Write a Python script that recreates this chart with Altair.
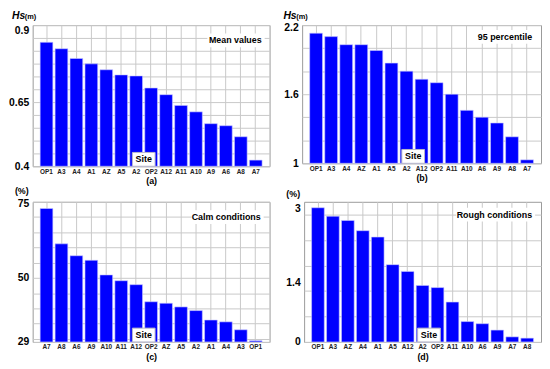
import altair as alt
import pandas as pd

FONT = "Liberation Sans"

# ---- data ----
sites_a = ["OP1", "A3", "A4", "A1", "AZ", "A5", "A2", "OP2", "A12", "A11", "A10", "A9", "A6", "A8", "A7"]
mean_hs = [0.883, 0.858, 0.820, 0.799, 0.776, 0.756, 0.752, 0.705, 0.679, 0.637, 0.612, 0.566, 0.558, 0.515, 0.424]

sites_b = ["OP1", "A3", "A4", "AZ", "A1", "A5", "A2", "A12", "OP2", "A11", "A10", "A6", "A9", "A8", "A7"]
p95_hs = [2.13, 2.10, 2.03, 2.03, 1.98, 1.87, 1.80, 1.73, 1.70, 1.60, 1.46, 1.40, 1.35, 1.23, 1.03]

sites_c = ["A7", "A8", "A6", "A9", "A10", "A11", "A12", "OP2", "AZ", "A5", "A2", "A1", "A4", "A3", "OP1"]
calm_pct = [72.8, 61.2, 57.3, 55.8, 51.0, 49.1, 47.8, 42.2, 41.7, 40.5, 39.3, 36.2, 35.6, 33.0, 29.4]

sites_d = ["OP1", "A3", "AZ", "A4", "A1", "A5", "A12", "A2", "OP2", "A11", "A10", "A6", "A9", "A7", "A8"]
rough_pct = [3.16, 2.96, 2.86, 2.62, 2.47, 1.82, 1.66, 1.33, 1.28, 0.94, 0.48, 0.43, 0.28, 0.12, 0.09]

# axis tick positions / labels
axis_a = [0.4, 0.45, 0.5, 0.55, 0.6, 0.65, 0.7, 0.75, 0.8, 0.85, 0.9, 0.95]
labels_a = [0.4, 0.65, 0.9]
axis_b = [1, 1.2, 1.4, 1.6, 1.8, 2.0, 2.2]
labels_b = [1, 1.6, 2.2]
axis_c = [29, 30, 35, 40, 45, 50, 55, 60, 65, 70, 75]
labels_c = [29, 50, 75]
axis_d = [0, 0.6, 1.2, 1.4, 1.8, 2.4, 3.0]
labels_d = [0, 1.4, 3]

one = alt.Data(values=[{"k": 1}])


def text_layer(txt, x, y, size, align="left", style="normal"):
    return alt.Chart(one).mark_text(
        text=txt, align=align, baseline="middle", font=FONT, fontSize=size,
        fontWeight="bold", fontStyle=style, color="black"
    ).encode(x=alt.value(x), y=alt.value(y))


def box_layer(x1, x2, y1, y2, stroke=None):
    kw = dict(fill="white", strokeWidth=0)
    if stroke:
        kw = dict(fill="white", stroke=stroke, strokeWidth=1)
    return alt.Chart(one).mark_rect(**kw).encode(
        x=alt.value(x1), x2=alt.value(x2), y=alt.value(y1), y2=alt.value(y2)
    )


def panel(sites, vals, domain, axis_vals, label_vals, caption, note, note_x, note_y,
          note_w, site_x, unit_layers, width, height, nogrid=None, top_label=None, top_shift=0):
    df = pd.DataFrame({"site": sites, "value": vals})
    lab = ",".join(repr(v) for v in label_vals)
    ykw = dict(
        values=axis_vals,
        labelExpr=f"indexof([{lab}], datum.value) >= 0 ? toString(datum.value) : ''",
        title=None, ticks=False, domain=False, grid=True, gridColor="#c8c8c8", gridWidth=1,
        labelFont=FONT, labelFontSize=10.5, labelFontWeight="bold", labelColor="black",
        labelPadding=4, minExtent=22, maxExtent=22, labelOverlap=False, labelFlush=False,
    )
    if nogrid is not None:
        ykw["gridOpacity"] = {"condition": {"test": f"datum.value === {nogrid}", "value": 0}, "value": 1}
    if top_label is not None:
        ykw["labelOffset"] = {"condition": {"test": f"datum.value === {top_label}", "value": top_shift}, "value": 0}
    yaxis = alt.Axis(**ykw)
    xaxis = alt.Axis(
        title=caption, titleFont=FONT, titleFontSize=9, titleFontWeight="bold", titlePadding=2,
        labelFont=FONT, labelFontSize=6.5, labelFontWeight="bold", labelColor="#222",
        labelAngle=0, labelPadding=2, ticks=False, domain=False, grid=True,
        gridColor="#c8c8c8", bandPosition=0.5, labelOverlap=False,
    )
    bars = alt.Chart(df).mark_bar(color="#0000ff", stroke="#c8c8ff", strokeWidth=0.6).encode(
        x=alt.X("site:N", sort=sites, scale=alt.Scale(paddingInner=0.15, paddingOuter=0.5), axis=xaxis),
        y=alt.Y("value:Q", scale=alt.Scale(domain=domain, nice=False, zero=False), axis=yaxis),
        y2=alt.datum(domain[0]),
    )
    layers = [
        bars,
        box_layer(note_x - note_w - 3, note_x + 3, note_y - 7, note_y + 7),
        text_layer(note, note_x, note_y, 9, align="right"),
        box_layer(site_x, site_x + 23, height - 14, height, stroke="#b8b8c8"),
        text_layer("Site", site_x + 11.5, height - 7, 9, align="center"),
    ] + unit_layers
    return alt.layer(*layers).properties(width=width, height=height)


hs_a = [text_layer("Hs", -21, -9, 10.5, style="italic"), text_layer("(m)", -8, -8, 7.5)]
hs_b = [text_layer("Hs", -19, -9, 10.5, style="italic"), text_layer("(m)", -6, -8, 7.5)]
pc_c = [text_layer("(%)", -18, -11, 9)]
pc_d = [text_layer("(%)", -18, -7.5, 9)]

pa = panel(sites_a, mean_hs, [0.4, 0.95], axis_a, labels_a, "(a)", "Mean values", 232, 15.5, 52,
           101, hs_a, 240, 143, top_label=0.9, top_shift=-7)
pb = panel(sites_b, p95_hs, [1, 2.2], axis_b, labels_b, "(b)", "95 percentile", 233, 12, 55,
           101, hs_b, 242, 140, top_label=2.2, top_shift=2)
pc = panel(sites_c, calm_pct, [29, 75], axis_c, labels_c, "(c)", "Calm conditions", 231, 15.5, 67,
           101, pc_c, 240, 142, top_label=75, top_shift=2)
pd_ = panel(sites_d, rough_pct, [0, 3.3], axis_d, labels_d, "(d)", "Rough conditions", 231, 13, 74,
            115, pc_d, 240, 142, nogrid=1.4, top_label=3, top_shift=-6)

row1 = alt.hconcat(pa, pb, spacing=9)
row2 = alt.hconcat(pc, pd_, spacing=11)
chart = alt.vconcat(row1, row2, spacing=0).properties(
    padding=0, background="white"
).configure_view(stroke="#999999", strokeWidth=1)

chart.save("out.html", embed_options={"renderer": "svg", "actions": False})
